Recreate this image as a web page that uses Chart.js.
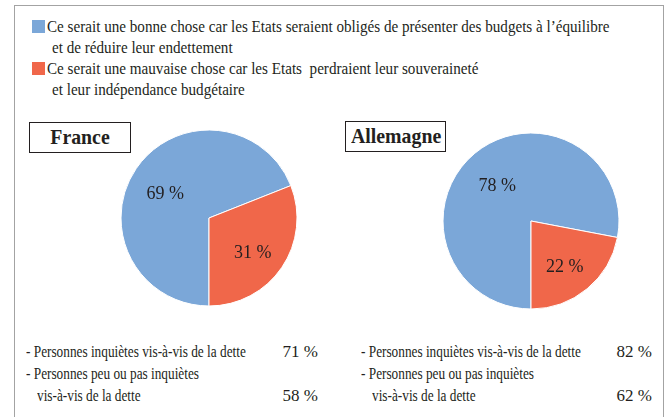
<!DOCTYPE html>
<html>
<head>
<meta charset="utf-8">
<script src="https://cdn.jsdelivr.net/npm/chart.js@4/dist/chart.umd.min.js"></script>
<style>
    body { margin: 0; background: #fff; width: 664px; height: 417px; overflow: hidden; position: relative;
           font-family: "Liberation Serif", "Times New Roman", serif; color: #231f20; }
    .frame { position: absolute; left: 14px; top: 5px; width: 648px; height: 440px; border: 1px solid #a3a3a3; }
    .txt { position: absolute; white-space: nowrap; font-size: 16px; line-height: 22px; transform-origin: 0 0; transform: scaleX(0.83); }
    .leg { font-size: 17px; transform: scaleX(0.89); }
    .num { position: absolute; white-space: nowrap; font-size: 17px; line-height: 22px; text-align: right; width: 60px; }
    .sq { position: absolute; width: 13px; height: 13px; }
    .title { position: absolute; border: 1.5px solid #231f20; font-weight: bold; font-size: 22px; line-height: 28px; text-align: center; }
    .title span { display: inline-block; transform: scaleX(0.9); }
    canvas { position: absolute; }
</style>
</head>
<body>
<div class="frame"></div>
<div id="legend"></div>
<div class="title" style="left:29px; top:122px; width:100px; height:29px;"><span id="t0"></span></div>
<div class="title" style="left:345px; top:121px; width:99px; height:29px;"><span id="t1"></span></div>
<canvas id="chartFr" width="180" height="180" style="left:119px; top:128px;"></canvas>
<canvas id="chartDe" width="180" height="180" style="left:441px; top:131px;"></canvas>
<div id="stats"></div>
<script>
const categories = [
    ['Ce serait une bonne chose car les Etats seraient obligés de présenter des budgets à l\u2019équilibre', 'et de réduire leur endettement'],
    ['Ce serait une mauvaise chose car les Etats\u00a0 perdraient leur souveraineté', 'et leur indépendance budgétaire']
];
const colors = ['#7ba7d8', '#f0674a'];
const countries = ['France', 'Allemagne'];
const franceValues = [69, 31];
const germanyValues = [78, 22];
const statLabels = [
    ['- Personnes inquiètes vis-à-vis de la dette'],
    ['- Personnes peu ou pas inquiètes', 'vis-à-vis de la dette']
];
const franceStats = [71, 58];
const germanyStats = [82, 62];

// legend
const legend = document.getElementById('legend');
let lineY = 16;
categories.forEach((lines, i) => {
    legend.insertAdjacentHTML('beforeend',
        `<div class="sq" style="left:32px; top:${lineY + 4}px; background:${colors[i]}"></div>`);
    lines.forEach((line, j) => {
        legend.insertAdjacentHTML('beforeend',
            `<div class="txt leg" style="left:${j === 0 ? 47 : 52}px; top:${lineY}px">${line}</div>`);
        lineY += 21;
    });
});

document.getElementById('t0').textContent = countries[0];
document.getElementById('t1').textContent = countries[1];

// stats under the pies
const stats = document.getElementById('stats');
function addStats(x, numRight, values) {
    let y = 341;
    statLabels.forEach((lines, i) => {
        lines.forEach((line, j) => {
            stats.insertAdjacentHTML('beforeend',
                `<div class="txt" style="left:${j === 0 ? x : x + 11}px; top:${y}px">${line}</div>`);
            if (j === lines.length - 1) {
                stats.insertAdjacentHTML('beforeend',
                    `<div class="num" style="left:${numRight - 60}px; top:${y}px">${values[i]} %</div>`);
            }
            y += 22;
        });
    });
}
addStats(26, 318, franceStats);
addStats(361, 652, germanyStats);

const pctLabels = {
    id: 'pctLabels',
    afterDatasetsDraw(chart) {
        const ctx = chart.ctx;
        const meta = chart.getDatasetMeta(0);
        const data = chart.data.datasets[0].data;
        ctx.save();
        ctx.font = '18px "Liberation Serif"';
        ctx.fillStyle = '#231f20';
        ctx.textAlign = 'center';
        ctx.textBaseline = 'middle';
        meta.data.forEach((arc, i) => {
            const mid = (arc.startAngle + arc.endAngle) / 2;
            const r = arc.outerRadius * 0.6;
            const x = arc.x + Math.cos(mid) * r;
            const y = arc.y + Math.sin(mid) * r + 6;
            ctx.fillText(data[i] + ' %', x, y);
        });
        ctx.restore();
    }
};

function makePie(id, values) {
    const ctx = document.getElementById(id).getContext('2d');
    return new Chart(ctx, {
        type: 'pie',
        data: {
            labels: categories.map(c => c.join(' ')),
            datasets: [{
                data: values,
                backgroundColor: colors,
                borderColor: '#ffffff',
                borderWidth: 1,
                radius: 88
            }]
        },
        options: {
            responsive: false,
            animation: false,
            rotation: 180,
            layout: { padding: 0 },
            plugins: {
                legend: { display: false },
                tooltip: { enabled: false }
            }
        },
        plugins: [pctLabels]
    });
}

makePie('chartFr', franceValues);
makePie('chartDe', germanyValues);
</script>
</body>
</html>
